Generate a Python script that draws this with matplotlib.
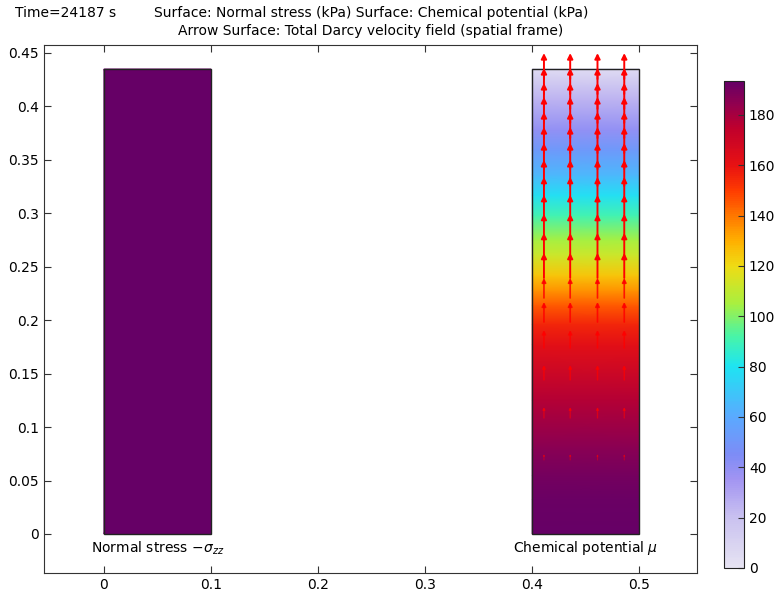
import numpy as np
import matplotlib
matplotlib.use("Agg")
import matplotlib.pyplot as plt
from matplotlib.colors import LinearSegmentedColormap, Normalize

# chemical potential along the height of the right column (kPa)
mu_z = [0, 0.032, 0.055, 0.079, 0.125, 0.177, 0.196, 0.214, 0.228, 0.242,
        0.261, 0.275, 0.298, 0.317, 0.336, 0.359, 0.378, 0.406, 0.435]
mu_val = [193, 192, 190, 186, 177, 162, 155, 145, 135, 125,
          112, 105, 90, 78, 65, 52, 40, 25, 5]

# normal stress in the left column (uniform)
stress_val = 193.5
col_height = 0.435
stress_x = [0.0, 0.1]
mu_x = [0.4, 0.5]

# Darcy velocity arrows: columns, tail heights, arrow lengths (scaled)
arrow_x = [0.411, 0.4355, 0.461, 0.486]
arrow_y = [0.4256, 0.4116, 0.3976, 0.3845, 0.3704, 0.3564, 0.3414, 0.3256,
           0.3106, 0.2937, 0.2760, 0.2582, 0.2395, 0.2208, 0.1983, 0.1740,
           0.1441, 0.1085, 0.0692]
arrow_v = [0.0243, 0.0243, 0.0243, 0.0243, 0.0243, 0.0243, 0.0243, 0.0243,
           0.0234, 0.0234, 0.0234, 0.0234, 0.0234, 0.0187, 0.0187, 0.0168,
           0.0140, 0.0103, 0.0056]

cb_ticks = [0, 20, 40, 60, 80, 100, 120, 140, 160, 180]
vmax = 193.5

# COMSOL-like "rainbow light" map
stops = [(0, '#e6e3f2'), (20, '#c9c1f0'), (35, '#a294f2'), (45, '#7d8cf6'),
         (60, '#5aaaff'), (80, '#1ee4f2'), (92, '#48f4a8'), (105, '#a8f040'),
         (120, '#efdc14'), (130, '#ffb000'), (140, '#ff7800'), (150, '#ff3c00'),
         (160, '#e81212'), (175, '#c0002c'), (185, '#900050'), (vmax, '#660066')]
cmap = LinearSegmentedColormap.from_list('rainbow_light', [(v / vmax, c) for v, c in stops])
norm = Normalize(0, vmax)

fig = plt.figure(figsize=(7.84, 5.98), dpi=100)
ax = fig.add_axes([0.0561, 0.0418, 0.833, 0.883])

# left column
X, Y = np.meshgrid(stress_x, [0, col_height])
ax.pcolormesh(X, Y, np.full(X.shape, stress_val), cmap=cmap, norm=norm, shading='gouraud')
ax.add_patch(plt.Rectangle((stress_x[0], 0), stress_x[1] - stress_x[0], col_height,
                           fill=False, ec='#222222', lw=1))

# right column
X, Y = np.meshgrid(mu_x, mu_z)
Z = np.repeat(np.array(mu_val, dtype=float)[:, None], 2, axis=1)
ax.pcolormesh(X, Y, Z, cmap=cmap, norm=norm, shading='gouraud')
ax.add_patch(plt.Rectangle((mu_x[0], 0), mu_x[1] - mu_x[0], col_height,
                           fill=False, ec='#222222', lw=1))

# arrows, head size follows arrow length
vref = max(arrow_v)
for xa in arrow_x:
    for ya, va in zip(arrow_y, arrow_v):
        r = va / vref
        ax.annotate('', xy=(xa, ya + va), xytext=(xa, ya),
                    arrowprops=dict(arrowstyle='-|>', color='red', lw=0.6 + 0.8 * r,
                                    mutation_scale=8 * r, shrinkA=0, shrinkB=0,
                                    alpha=0.25 + 0.75 * min(va / 0.0234, 1.0)))

ax.text(0.05, -0.013, r'Normal stress $-\sigma_{zz}$', ha='center', va='center', fontsize=10)
ax.text(0.45, -0.013, r'Chemical potential $\mu$', ha='center', va='center', fontsize=10)

ax.set_xlim(-0.056, 0.554)
ax.set_ylim(-0.0365, 0.4575)
ax.set_xticks([0, 0.1, 0.2, 0.3, 0.4, 0.5])
ax.set_xticklabels(['0', '0.1', '0.2', '0.3', '0.4', '0.5'])
ax.set_yticks(np.arange(0, 0.451, 0.05))
ax.set_yticklabels(['0', '0.05', '0.1', '0.15', '0.2', '0.25', '0.3', '0.35', '0.4', '0.45'])
ax.tick_params(direction='in', top=True, right=True, length=5, labelsize=10, color='#333333')
for s in ax.spines.values():
    s.set_color('#333333')

fig.text(0.019, 0.978, 'Time=24187 s', fontsize=10, va='center', ha='left')
fig.text(0.473, 0.978, 'Surface: Normal stress (kPa) Surface: Chemical potential (kPa)',
         fontsize=10, va='center', ha='center')
fig.text(0.473, 0.948, 'Arrow Surface: Total Darcy velocity field (spatial frame)',
         fontsize=10, va='center', ha='center')

# colorbar
cax = fig.add_axes([0.9235, 0.0502, 0.0255, 0.8144])
cb = fig.colorbar(plt.cm.ScalarMappable(norm=norm, cmap=cmap), cax=cax, ticks=cb_ticks)
cb.outline.set_edgecolor('#222222')
cax.tick_params(direction='in', length=4, labelsize=10, color='#333333')

fig.savefig('out.png', dpi=100)
